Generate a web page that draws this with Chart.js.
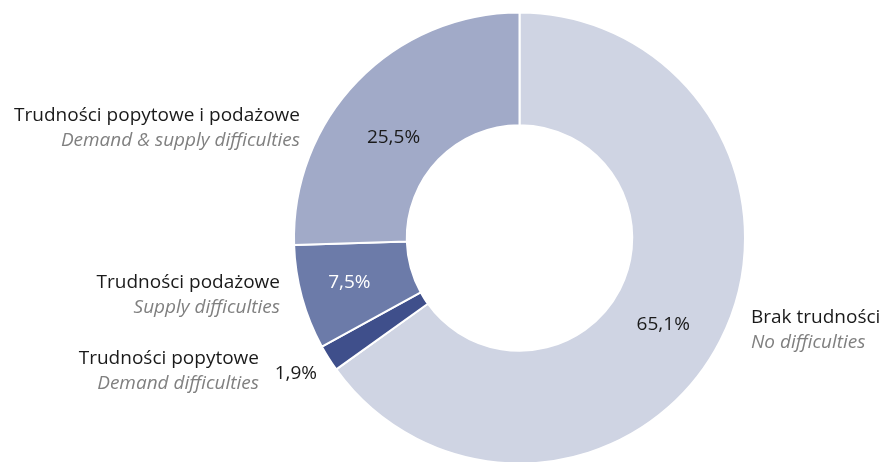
<!DOCTYPE html>
<html>
<head>
<meta charset="utf-8">
<script src="https://cdn.jsdelivr.net/npm/chart.js@4"></script>
<style>
  html, body { margin: 0; padding: 0; background: #fff; overflow: hidden; }
  #wrap { width: 882px; height: 480px; position: relative; }
</style>
</head>
<body>
<div id="wrap"><canvas id="chart"></canvas></div>
<script>
// data
const categories = ["Brak trudności", "Trudności popytowe", "Trudności podażowe", "Trudności popytowe i podażowe"];
const categoriesEn = ["No difficulties", "Demand difficulties", "Supply difficulties", "Demand & supply difficulties"];
const shares = [65.1, 1.9, 7.5, 25.5];

const colors = ["#cfd4e3", "#3f4f8b", "#6c7ba9", "#a1aac8"];
const FONT = "'Open Sans', sans-serif";

// where each label block goes: [x, y of first line, align]; value label placement
const labelPos = [
  [751, 318, "left"],
  [259, 359, "right"],
  [280, 283, "right"],
  [300, 116, "right"]
];
const valueStyle = [
  { r: 0.49, color: "#1a1a1a", da: 4 },
  { r: 1.16, color: "#1a1a1a", da: 1 },
  { r: 0.56, color: "#ffffff", da: 0.6 },
  { r: 0.43, color: "#1a1a1a", da: -5.5 }
];

const labelsPlugin = {
  id: "labels",
  afterDatasetsDraw(chart) {
    const ctx = chart.ctx;
    const meta = chart.getDatasetMeta(0);
    ctx.save();
    ctx.textBaseline = "middle";
    meta.data.forEach((arc, i) => {
      const p = arc.getProps(["x", "y", "startAngle", "endAngle", "innerRadius", "outerRadius"]);
      const st = valueStyle[i];
      const mid = (p.startAngle + p.endAngle) / 2 + st.da * Math.PI / 180;
      let r = p.innerRadius + (p.outerRadius - p.innerRadius) * st.r;
      if (st.r > 1) r = p.outerRadius * st.r;
      ctx.font = "19px " + FONT;
      ctx.fillStyle = st.color;
      ctx.textAlign = "center";
      ctx.fillText(shares[i].toFixed(1).replace(".", ",") + "%", p.x + r * Math.cos(mid), p.y + r * Math.sin(mid));

      const [lx, ly, align] = labelPos[i];
      ctx.textAlign = align;
      ctx.fillStyle = "#1a1a1a";
      ctx.font = "19px " + FONT;
      ctx.fillText(categories[i], lx, ly);
      ctx.fillStyle = "#808080";
      ctx.font = "italic 19px " + FONT;
      ctx.fillText(categoriesEn[i], lx, ly + 25);
    });
    ctx.restore();
  }
};

new Chart(document.getElementById("chart"), {
  type: "doughnut",
  data: {
    labels: categories,
    datasets: [{
      data: shares,
      backgroundColor: colors,
      borderColor: "#ffffff",
      borderWidth: 2,
      hoverOffset: 0
    }]
  },
  options: {
    responsive: true,
    maintainAspectRatio: false,
    animation: false,
    cutout: "50%",
    layout: { padding: { left: 293, right: 136, top: 11.5, bottom: 15.5 } },
    plugins: { legend: { display: false }, tooltip: { enabled: false } }
  },
  plugins: [labelsPlugin]
});
</script>
</body>
</html>
